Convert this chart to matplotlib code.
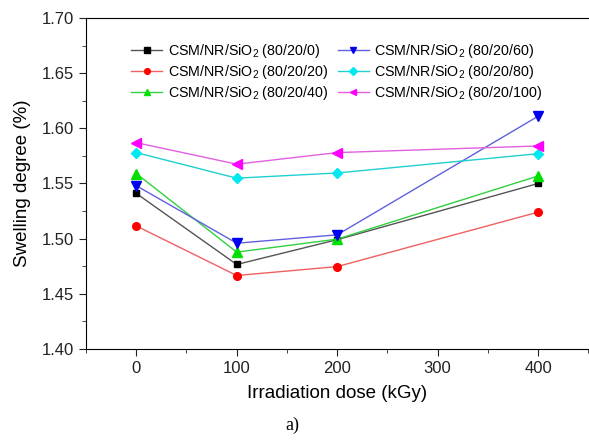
import matplotlib
matplotlib.use('Agg')
import matplotlib.pyplot as plt
from matplotlib.ticker import MultipleLocator

plt.rcParams['font.family'] = 'Liberation Sans'
plt.rcParams['mathtext.fontset'] = 'custom'
plt.rcParams['mathtext.rm'] = 'Liberation Sans'
plt.rcParams['mathtext.it'] = 'Liberation Sans:italic'

dose = [0, 100, 200, 400]

s_0 = [1.541, 1.4765, 1.499, 1.550]
s_20 = [1.5115, 1.4665, 1.4746, 1.524]
s_40 = [1.559, 1.4877, 1.4995, 1.5568]
s_60 = [1.548, 1.4958, 1.5034, 1.611]
s_80 = [1.578, 1.5548, 1.5595, 1.577]
s_100 = [1.587, 1.5675, 1.578, 1.584]

labels = ['CSM/NR/SiO$_2$ (80/20/0)', 'CSM/NR/SiO$_2$ (80/20/20)',
          'CSM/NR/SiO$_2$ (80/20/40)', 'CSM/NR/SiO$_2$ (80/20/60)',
          'CSM/NR/SiO$_2$ (80/20/80)', 'CSM/NR/SiO$_2$ (80/20/100)']

series = [s_0, s_20, s_40, s_60, s_80, s_100]
line_colors = ['#555555', '#f06060', '#30d040', '#6060e0', '#20d0d0', '#e060e0']
marker_colors = ['black', 'red', '#00e000', '#0000ee', '#00e8f0', '#ff00ff']
markers = ['s', 'o', '^', 'v', 'D', '<']
sizes = [5, 5.5, 6.5, 6.5, 5, 6.5]

fig = plt.figure(figsize=(5.89, 4.41), dpi=100)
ax = fig.add_axes([0.146, 0.209, 0.853, 0.75])

for y, lab, lc, mc, m, ms in zip(series, labels, line_colors, marker_colors, markers, sizes):
    ax.plot(dose, y, color=lc, lw=1, marker=m, ms=ms, mfc=mc, mec=mc, label=lab)

ax.set_xlim(-50, 450)
ax.set_ylim(1.40, 1.70)
ax.xaxis.set_major_locator(MultipleLocator(100))
ax.xaxis.set_minor_locator(MultipleLocator(50))
ax.yaxis.set_major_locator(MultipleLocator(0.05))
ax.yaxis.set_minor_locator(MultipleLocator(0.025))
ax.yaxis.set_major_formatter(matplotlib.ticker.FormatStrFormatter('%.2f'))
ax.tick_params(which='both', direction='out', labelsize=12, colors='#222222')
ax.tick_params(which='major', length=5)
ax.tick_params(which='minor', length=3)
ax.spines['right'].set_visible(False)

ax.set_xlabel('Irradiation dose (kGy)', fontsize=13.5, labelpad=7)
ax.set_ylabel('Swelling degree (%)', fontsize=13.5, labelpad=8)

leg = ax.legend(ncol=2, frameon=False, fontsize=10.3, loc='upper left',
                bbox_to_anchor=(0.064, 0.968), handlelength=2.2, handletextpad=0.35,
                columnspacing=0.7, labelspacing=0.22, markerscale=0.75)

fig.text(0.497, 0.025, 'a)', fontsize=13, family='Liberation Serif', ha='center')

plt.savefig('out.png', dpi=100)
